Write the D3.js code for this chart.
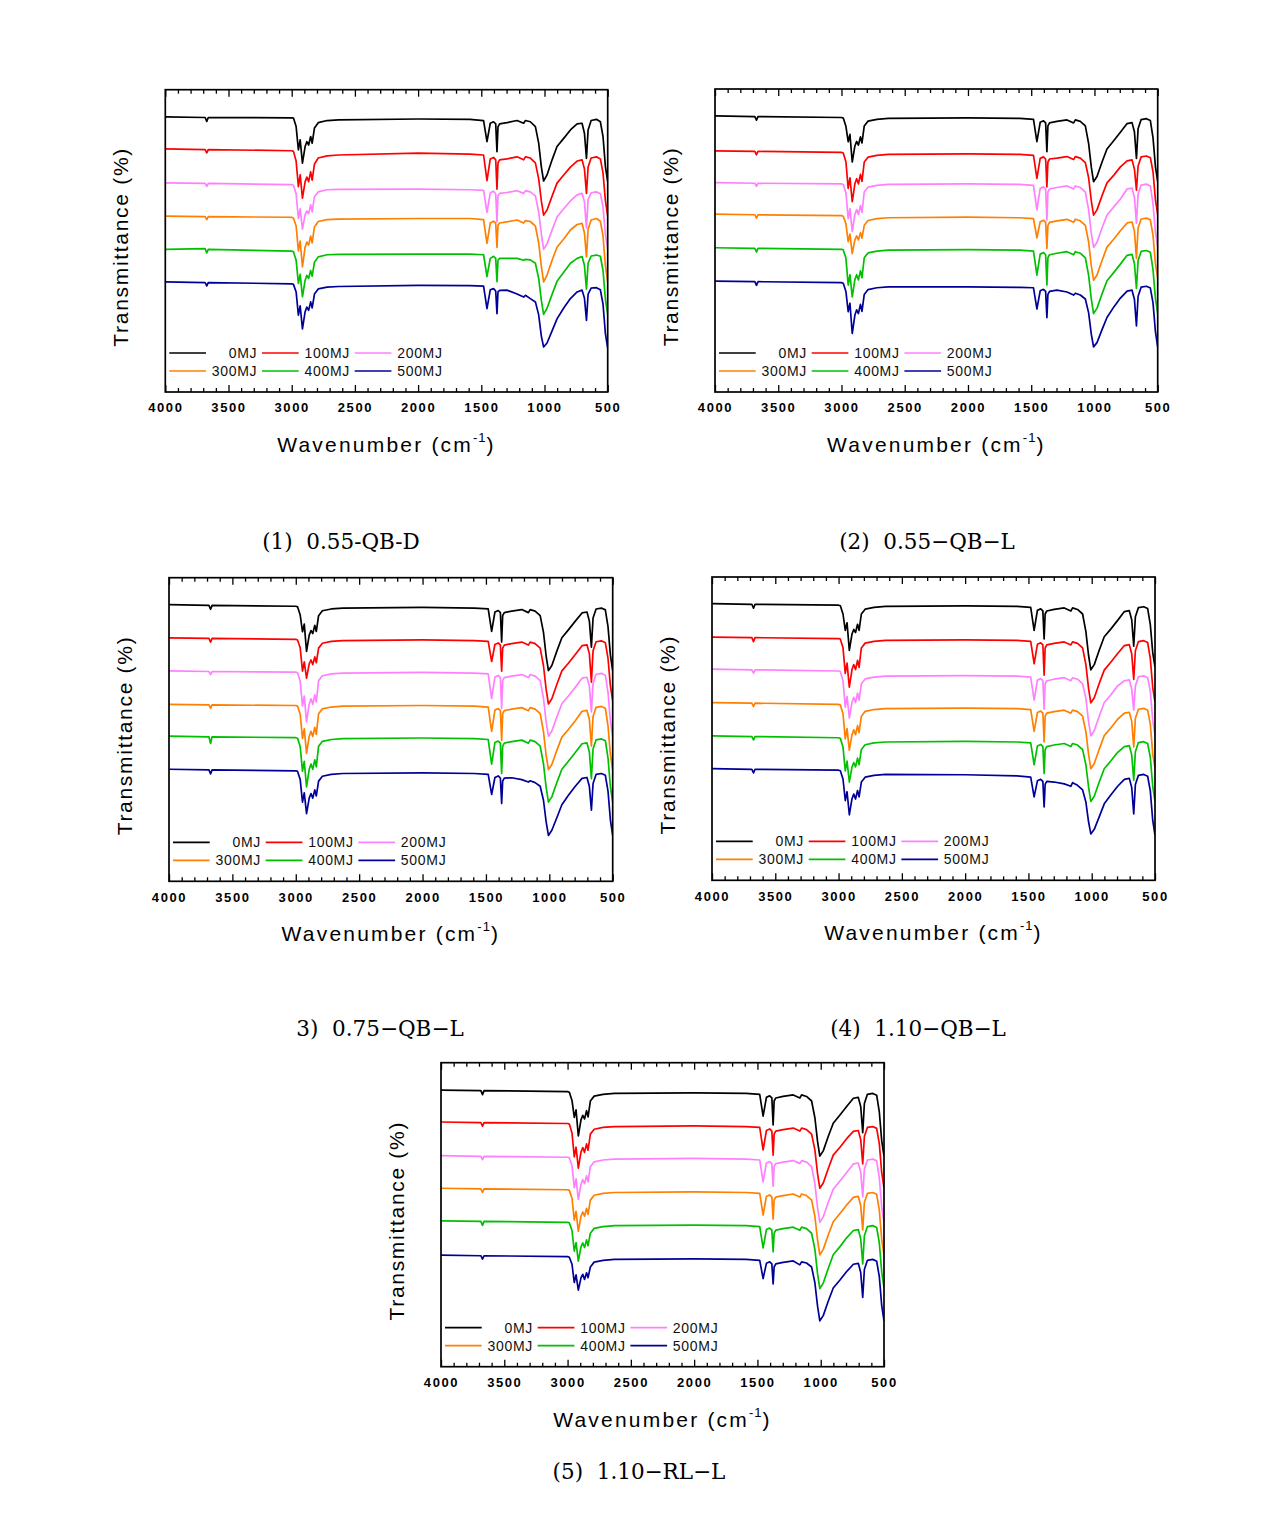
<!DOCTYPE html>
<html><head><meta charset="utf-8">
<script src="https://cdn.jsdelivr.net/npm/d3@7"></script>
<style>body{margin:0;background:#fff}svg{display:block}</style>
</head><body>
<svg id="chart" width="1274" height="1529"></svg>
<script>
// ---------------- data ----------------
const wavenumbers = [4000, 3685, 3672, 3660, 3000, 2986, 2965, 2947, 2933, 2915, 2894, 2880, 2866, 2850, 2838, 2820, 2790, 2720, 2630, 2000, 1590, 1482, 1455, 1429, 1403, 1386, 1376, 1368, 1355, 1297, 1217, 1165, 1151, 1112, 1072, 1046, 1025, 1007, 980, 940, 901, 848, 795, 742, 703, 684, 668, 655, 631, 589, 558, 537, 518, 500];
const seriesLabels = ["0MJ", "100MJ", "200MJ", "300MJ", "400MJ", "500MJ"];
const xTickValues = [4000, 3500, 3000, 2500, 2000, 1500, 1000, 500];
const captions = ["(1)  0.55-QB-D", "(2)  0.55\u2212QB\u2212L", "3)  0.75\u2212QB\u2212L", "(4)  1.10\u2212QB\u2212L", "(5)  1.10\u2212RL\u2212L"];
const xTitle = "Wavenumber (cm";
const yTitle = "Transmittance (%)";

// stacking offset (transmittance at 4000 cm-1) of each curve, per panel
const p1Offsets = [91.0, 80.4, 69.2, 58.2, 47.2, 36.4];
const p2Offsets = [91.1, 79.6, 69.1, 58.7, 47.6, 36.6];
const p3Offsets = [91.1, 80.2, 69.3, 58.3, 47.8, 36.9];
const p4Offsets = [91.2, 80.2, 69.6, 58.6, 47.6, 36.8];
const p5Offsets = [91.0, 80.5, 69.4, 58.7, 48.0, 36.7];

// band depth below the 4000 cm-1 level (transmittance %), per curve
const p1_0MJ = [0, 0.2, 1.5, 0.2, 0.3, 0.4, 3.2, 10.9, 7.6, 15.3, 9.8, 8.2, 9.3, 6.5, 8.7, 3.7, 1.9, 1.2, 1.0, 0.7, 0.8, 1.2, 8.2, 2.1, 1.6, 2.3, 11.5, 3.3, 2.3, 1.9, 1.2, 2.1, 1.2, 1.6, 3.2, 8.7, 16.5, 21.2, 19.2, 14.2, 9.8, 7.1, 4.3, 2.3, 2.1, 5.4, 13.7, 4.3, 1.2, 0.8, 1.6, 6.5, 16.5, 21.4];
const p1_100MJ = [0, 0.2, 1.3, 0.2, 0.6, 0.8, 4.0, 12.5, 8.6, 16.3, 10.9, 9.3, 10.8, 7.6, 10.3, 5.0, 3.0, 2.3, 2.0, 1.4, 1.7, 2.0, 10.5, 3.3, 2.8, 3.6, 13.3, 4.6, 3.6, 3.3, 2.6, 3.6, 2.6, 3.0, 4.6, 9.9, 17.2, 21.9, 20.2, 15.6, 11.3, 8.6, 6.0, 4.0, 3.6, 6.6, 14.7, 6.0, 3.0, 2.6, 3.3, 7.9, 17.2, 22.1];
const p1_200MJ = [0, 0.2, 1.2, 0.2, 0.6, 0.8, 3.6, 11.8, 8.6, 15.3, 10.6, 9.3, 10.2, 7.3, 9.6, 4.6, 3.0, 2.3, 2.2, 2.1, 2.3, 2.5, 9.8, 3.3, 2.8, 3.6, 12.9, 4.3, 3.5, 3.2, 2.6, 3.5, 2.6, 3.0, 4.3, 9.6, 16.9, 22.0, 20.2, 15.6, 11.3, 8.6, 6.0, 4.0, 3.5, 6.3, 14.9, 5.6, 3.3, 3.0, 3.6, 7.9, 17.2, 21.8];
const p1_300MJ = [0, 0.2, 1.2, 0.2, 0.4, 0.7, 3.3, 11.5, 8.3, 16.8, 10.3, 8.6, 9.6, 6.6, 8.9, 3.6, 1.8, 1.2, 1.0, 0.8, 0.8, 1.2, 9.0, 2.3, 1.7, 2.3, 10.4, 3.0, 2.3, 1.9, 1.3, 2.3, 1.5, 1.8, 3.3, 8.9, 16.6, 21.8, 19.5, 14.6, 10.3, 7.6, 4.6, 2.8, 2.4, 5.6, 13.5, 4.3, 1.3, 0.8, 1.7, 6.6, 16.6, 21.8];
const p1_400MJ = [0, -0.2, 1.2, 0, 0.6, 0.8, 3.6, 11.3, 8.3, 15.7, 10.3, 8.6, 9.6, 7.0, 8.9, 4.3, 2.5, 1.8, 1.7, 1.6, 1.6, 1.8, 9.0, 3.0, 2.3, 3.0, 10.7, 3.6, 3.0, 3.0, 3.0, 3.6, 3.3, 3.5, 4.6, 9.6, 16.9, 21.5, 19.5, 14.9, 10.6, 7.6, 4.6, 3.0, 2.4, 5.3, 13.2, 4.6, 2.2, 1.9, 2.3, 7.0, 16.6, 21.5];
const p1_500MJ = [0, 0.2, 1.3, 0.2, 0.6, 0.8, 3.3, 11.0, 7.9, 15.5, 9.9, 8.3, 9.4, 6.6, 8.6, 4.0, 2.3, 1.7, 1.5, 1.1, 1.2, 1.4, 8.8, 2.6, 2.2, 3.0, 10.5, 3.3, 2.8, 2.7, 4.0, 5.0, 4.4, 5.5, 6.6, 10.9, 17.9, 21.5, 20.2, 16.2, 12.2, 8.6, 5.5, 3.3, 2.7, 5.3, 12.7, 4.0, 2.0, 1.9, 2.6, 7.3, 17.2, 21.9];

const p2_0MJ = [0, 0.2, 1.4, 0.2, 0.5, 0.7, 3.4, 8.5, 6.1, 15.2, 9.9, 8.4, 9.6, 6.9, 8.9, 3.3, 1.7, 1.1, 0.8, 0.6, 0.8, 1.1, 8.5, 2.1, 1.6, 2.3, 11.8, 3.3, 2.3, 1.8, 1.3, 2.3, 1.3, 1.8, 3.3, 9.1, 16.9, 21.7, 20.0, 15.2, 10.9, 8.2, 5.4, 2.5, 2.2, 5.2, 14.0, 4.2, 1.2, 0.9, 1.5, 7.2, 16.7, 21.7];
const p2_100MJ = [0, 0.2, 1.3, 0.2, 0.5, 0.7, 3.6, 12.4, 8.9, 16.8, 10.9, 9.2, 10.9, 7.8, 10.1, 3.7, 2.1, 1.5, 1.2, 1.0, 1.2, 1.5, 9.1, 2.5, 2.0, 2.7, 11.9, 3.7, 2.7, 2.4, 1.9, 2.9, 1.9, 2.4, 3.9, 8.9, 16.5, 21.2, 19.5, 14.8, 10.6, 8.1, 5.3, 3.3, 3.0, 6.0, 13.0, 5.0, 2.0, 1.7, 2.3, 6.9, 16.2, 21.0];
const p2_200MJ = [0, 0.2, 1.2, 0.2, 0.4, 0.6, 3.3, 11.9, 8.6, 16.2, 10.5, 8.9, 10.5, 7.6, 9.8, 3.1, 1.5, 0.9, 0.6, 0.4, 0.6, 0.9, 9.0, 1.9, 1.4, 2.1, 12.3, 3.1, 2.1, 1.6, 1.1, 2.1, 1.1, 1.6, 3.1, 9.0, 16.7, 21.4, 19.7, 15.0, 10.7, 8.1, 5.4, 2.1, 1.8, 4.8, 13.4, 3.8, 0.8, 0.5, 1.1, 7.0, 16.3, 21.2];
const p2_300MJ = [0, 0.2, 1.3, 0.2, 0.5, 0.7, 3.2, 9.1, 6.6, 13.0, 8.5, 7.2, 8.5, 6.1, 7.9, 3.7, 2.1, 1.5, 1.2, 1.0, 1.2, 1.5, 7.8, 2.5, 2.0, 2.7, 11.3, 3.7, 2.7, 2.2, 1.7, 2.7, 1.7, 2.2, 3.7, 9.2, 17.0, 21.8, 20.1, 15.3, 10.9, 8.3, 5.5, 2.9, 2.6, 5.6, 14.6, 4.6, 1.6, 1.3, 1.9, 7.0, 16.3, 21.2];
const p2_400MJ = [0, 0.2, 1.4, 0.2, 0.5, 0.7, 3.4, 12.3, 8.9, 16.2, 10.5, 8.9, 10.6, 7.6, 9.9, 3.3, 1.7, 1.1, 0.8, 0.6, 0.8, 1.1, 9.0, 2.1, 1.6, 2.3, 12.3, 3.3, 2.3, 1.8, 1.3, 2.3, 1.3, 1.8, 3.3, 9.1, 16.9, 21.7, 20.0, 15.2, 10.9, 8.2, 5.4, 2.5, 2.2, 5.2, 13.4, 4.2, 1.2, 0.9, 1.5, 7.2, 16.7, 21.7];
const p2_500MJ = [0, 0.2, 1.4, 0.2, 0.5, 0.7, 3.4, 10.1, 7.3, 17.3, 11.2, 9.5, 10.7, 7.7, 10.0, 4.4, 2.8, 2.2, 1.9, 1.9, 2.1, 2.2, 9.2, 3.2, 2.7, 3.4, 12.1, 4.4, 3.4, 3.0, 3.6, 4.6, 4.0, 4.6, 5.9, 10.5, 17.5, 21.7, 20.3, 16.0, 12.0, 8.6, 5.6, 3.3, 3.0, 6.0, 14.8, 5.0, 2.0, 1.7, 2.3, 7.2, 16.7, 21.7];

const p3_0MJ = [0, 0.2, 1.5, 0.2, 0.5, 0.7, 3.4, 8.9, 6.4, 15.4, 10.0, 8.5, 9.5, 6.8, 8.8, 3.6, 2.0, 1.4, 1.1, 0.9, 1.1, 1.4, 8.8, 2.4, 1.9, 2.6, 12.3, 3.6, 2.6, 2.1, 1.6, 2.6, 1.6, 2.1, 3.6, 9.1, 16.9, 21.7, 20.0, 15.2, 10.9, 8.2, 5.4, 2.7, 2.4, 5.4, 14.0, 4.4, 1.4, 1.1, 1.7, 7.2, 16.7, 21.7];
const p3_100MJ = [0, 0.2, 1.4, 0.2, 0.5, 0.7, 3.3, 11.0, 7.9, 13.3, 8.6, 7.3, 8.8, 6.3, 8.2, 3.4, 1.8, 1.2, 0.9, 0.7, 0.9, 1.2, 7.8, 2.2, 1.7, 2.4, 11.0, 3.4, 2.4, 1.9, 1.4, 2.4, 1.4, 1.9, 3.4, 9.2, 17.0, 21.8, 20.1, 15.3, 10.9, 8.3, 5.5, 2.6, 2.3, 5.3, 14.6, 4.3, 1.3, 1.0, 1.6, 6.8, 15.9, 20.7];
const p3_200MJ = [0, 0.2, 1.2, 0.2, 0.4, 0.6, 3.4, 11.5, 8.3, 16.8, 10.9, 9.2, 11.0, 7.9, 10.2, 3.2, 1.6, 1.0, 0.7, 0.5, 0.7, 1.0, 9.1, 2.0, 1.5, 2.2, 12.4, 3.2, 2.2, 1.7, 1.2, 2.2, 1.2, 1.7, 3.2, 9.0, 16.8, 21.5, 19.8, 15.1, 10.8, 8.2, 5.4, 2.4, 2.1, 5.1, 13.5, 4.1, 1.1, 0.8, 1.4, 7.1, 16.6, 21.5];
const p3_300MJ = [0, 0.2, 1.3, 0.2, 0.4, 0.6, 3.3, 11.2, 8.1, 16.2, 10.5, 8.9, 10.6, 7.6, 9.9, 3.1, 1.5, 0.9, 0.6, 0.4, 0.6, 0.9, 8.9, 1.9, 1.4, 2.1, 11.9, 3.1, 2.1, 1.6, 1.1, 2.1, 1.1, 1.6, 3.1, 9.0, 16.8, 21.5, 19.8, 15.1, 10.8, 8.2, 5.4, 2.3, 2.0, 5.0, 13.8, 4.0, 1.0, 0.7, 1.3, 7.1, 16.6, 21.5];
const p3_400MJ = [0, 0.2, 2.4, 0.2, 0.5, 0.7, 3.4, 11.5, 8.3, 16.7, 10.9, 9.2, 10.9, 7.8, 10.1, 3.3, 1.7, 1.1, 0.8, 0.6, 0.8, 1.1, 9.2, 2.1, 1.6, 2.3, 12.3, 3.3, 2.3, 1.8, 1.3, 2.3, 1.3, 1.8, 3.3, 9.1, 16.9, 21.7, 20.0, 15.2, 10.9, 8.2, 5.4, 2.5, 2.2, 5.2, 14.0, 4.2, 1.2, 0.9, 1.5, 7.2, 16.7, 21.7];
const p3_500MJ = [0, 0.2, 1.5, 0.2, 0.5, 0.7, 3.4, 10.8, 7.8, 14.6, 9.5, 8.0, 9.5, 6.8, 8.8, 3.9, 2.3, 1.7, 1.4, 1.2, 1.4, 1.7, 8.3, 2.7, 2.2, 2.9, 11.3, 3.9, 2.9, 2.8, 3.4, 4.2, 3.8, 4.4, 5.6, 10.2, 17.3, 21.8, 20.1, 15.9, 11.7, 8.5, 5.6, 3.0, 2.7, 5.7, 13.5, 4.7, 1.7, 1.4, 2.0, 7.2, 16.8, 21.8];

const p4_0MJ = [0, 0.2, 1.5, 0.2, 0.5, 0.7, 3.4, 8.8, 6.3, 15.4, 10.0, 8.5, 9.5, 6.8, 8.8, 3.4, 1.8, 1.2, 0.9, 0.7, 0.9, 1.2, 8.8, 2.2, 1.7, 2.4, 11.6, 3.4, 2.4, 1.9, 1.4, 2.4, 1.4, 1.9, 3.4, 9.2, 17.0, 21.8, 20.1, 15.3, 10.9, 8.3, 5.5, 2.6, 2.3, 5.3, 14.0, 4.3, 1.3, 1.0, 1.6, 6.9, 16.1, 20.9];
const p4_100MJ = [0, 0.2, 1.5, 0.2, 0.5, 0.7, 3.5, 12.0, 8.6, 16.5, 10.7, 9.1, 10.7, 7.7, 10.0, 3.6, 2.0, 1.4, 1.1, 0.9, 1.1, 1.4, 8.8, 2.4, 1.9, 2.6, 12.6, 3.6, 2.6, 2.1, 1.6, 2.6, 1.6, 2.1, 3.6, 9.1, 16.9, 21.7, 20.0, 15.2, 10.9, 8.2, 5.4, 2.8, 2.5, 5.5, 14.0, 4.5, 1.5, 1.2, 1.8, 7.1, 16.6, 21.5];
const p4_200MJ = [0, 0.2, 1.3, 0.2, 0.6, 0.8, 3.8, 12.5, 9.0, 16.1, 10.9, 9.3, 11.0, 7.9, 10.2, 4.8, 3.2, 2.6, 2.3, 2.1, 2.3, 2.6, 10.2, 3.6, 3.1, 3.8, 13.2, 4.8, 3.8, 3.3, 2.8, 3.8, 2.8, 3.3, 4.8, 9.6, 17.2, 22.0, 20.2, 15.4, 11.0, 8.4, 5.5, 3.8, 3.5, 6.5, 13.5, 5.5, 2.5, 2.2, 2.8, 7.2, 16.8, 21.8];
const p4_300MJ = [0, 0.2, 1.3, 0.2, 0.6, 0.8, 3.7, 12.0, 8.6, 15.7, 10.6, 9.0, 10.6, 7.6, 9.9, 4.5, 2.9, 2.3, 2.0, 1.8, 2.0, 2.3, 9.5, 3.3, 2.8, 3.5, 13.0, 4.5, 3.5, 3.0, 2.5, 3.5, 2.5, 3.0, 4.5, 9.6, 17.0, 21.8, 20.1, 15.3, 10.9, 8.3, 5.5, 3.5, 3.2, 6.2, 14.6, 5.2, 2.2, 1.9, 2.5, 7.2, 16.8, 21.8];
const p4_400MJ = [0, 0.2, 1.3, 0.2, 0.6, 0.8, 3.7, 11.5, 8.3, 15.2, 10.3, 8.8, 10.2, 7.3, 9.5, 4.5, 2.9, 2.3, 2.0, 1.8, 2.0, 2.3, 9.5, 3.3, 2.8, 3.5, 12.4, 4.5, 3.5, 3.0, 2.5, 3.5, 2.5, 3.0, 4.5, 9.5, 16.8, 21.6, 19.9, 15.1, 10.8, 8.2, 5.4, 3.5, 3.2, 6.2, 14.6, 5.2, 2.2, 1.9, 2.5, 7.1, 16.6, 21.6];
const p4_500MJ = [0, 0.2, 1.4, 0.2, 0.5, 0.7, 3.4, 10.5, 7.6, 15.2, 9.9, 8.4, 10.0, 7.2, 9.3, 4.4, 2.8, 2.2, 1.9, 2.0, 2.4, 2.8, 9.3, 4.0, 3.5, 4.2, 12.6, 5.2, 4.2, 4.4, 5.0, 5.8, 4.6, 5.5, 7.0, 11.0, 17.5, 21.5, 20.0, 15.8, 11.6, 8.6, 5.8, 3.5, 3.2, 6.2, 14.9, 5.2, 2.2, 1.9, 2.5, 7.3, 17.0, 22.0];

const p5_0MJ = [0, 0.2, 1.5, 0.2, 0.5, 0.7, 3.4, 9.0, 6.5, 15.1, 9.8, 8.3, 9.5, 6.8, 8.8, 3.6, 2.0, 1.4, 1.1, 0.9, 1.1, 1.4, 8.6, 2.4, 1.9, 2.6, 11.5, 3.6, 2.6, 2.1, 1.6, 2.6, 1.6, 2.1, 3.6, 9.1, 16.9, 21.7, 20.0, 15.2, 10.9, 8.2, 5.4, 2.7, 2.4, 5.4, 14.0, 4.4, 1.4, 1.1, 1.7, 7.2, 16.7, 21.7];
const p5_100MJ = [0, 0.2, 1.4, 0.2, 0.5, 0.7, 3.6, 11.5, 8.3, 15.2, 9.9, 8.4, 10.0, 7.2, 9.3, 4.0, 2.4, 1.8, 1.5, 1.3, 1.5, 1.8, 9.2, 2.8, 2.3, 3.0, 10.9, 4.0, 3.0, 2.5, 2.0, 3.0, 2.0, 2.5, 4.0, 9.2, 17.0, 21.8, 20.1, 15.3, 10.9, 8.3, 5.5, 3.1, 2.8, 5.8, 13.8, 4.8, 1.8, 1.5, 2.1, 7.2, 16.7, 21.7];
const p5_200MJ = [0, 0.2, 1.3, 0.2, 0.5, 0.7, 3.3, 10.5, 7.6, 14.4, 9.4, 7.9, 9.2, 6.6, 8.6, 3.6, 2.0, 1.4, 1.1, 0.9, 1.1, 1.4, 8.6, 2.4, 1.9, 2.6, 10.0, 3.6, 2.6, 2.1, 1.6, 2.6, 1.6, 2.1, 3.6, 9.2, 17.1, 21.9, 20.1, 15.3, 11.0, 8.3, 5.5, 2.7, 2.4, 5.4, 13.5, 4.4, 1.4, 1.1, 1.7, 7.2, 16.9, 21.9];
const p5_300MJ = [0, 0.2, 1.4, 0.2, 0.5, 0.7, 3.3, 10.5, 7.6, 14.2, 9.2, 7.8, 9.2, 6.6, 8.6, 3.9, 2.3, 1.7, 1.4, 1.2, 1.4, 1.7, 8.8, 2.7, 2.2, 2.9, 10.2, 3.9, 2.9, 2.4, 1.9, 2.9, 1.9, 2.4, 3.9, 9.2, 17.1, 21.9, 20.1, 15.3, 11.0, 8.3, 5.5, 3.0, 2.7, 5.7, 13.7, 4.7, 1.7, 1.4, 2.0, 7.2, 16.9, 21.9];
const p5_400MJ = [0, 0.2, 1.5, 0.2, 0.5, 0.7, 3.2, 10.0, 7.2, 13.3, 8.6, 7.3, 8.8, 6.3, 8.2, 4.1, 2.5, 1.9, 1.6, 1.4, 1.6, 1.9, 8.9, 2.9, 2.4, 3.1, 10.2, 4.1, 3.1, 2.6, 2.1, 3.1, 2.1, 2.6, 4.1, 9.4, 17.4, 22.3, 20.5, 15.6, 11.2, 8.5, 5.6, 3.2, 2.9, 5.9, 14.2, 4.9, 1.9, 1.6, 2.2, 7.3, 16.9, 22.0];
const p5_500MJ = [0, 0.2, 1.3, 0.2, 0.5, 0.7, 3.0, 9.0, 6.5, 11.5, 7.5, 6.3, 8.0, 5.8, 7.4, 3.9, 2.3, 1.7, 1.4, 1.2, 1.4, 1.7, 7.7, 2.7, 2.2, 2.9, 9.5, 3.9, 2.9, 2.4, 1.9, 3.2, 2.2, 2.6, 3.9, 9.1, 16.8, 21.6, 19.9, 15.1, 10.8, 8.2, 5.4, 3.0, 2.7, 5.7, 13.9, 4.7, 1.7, 1.4, 2.0, 7.1, 16.6, 21.6];

// ---------------- presentation ----------------
const seriesColors = ["#000000", "#ff0000", "#ff80ff", "#ff8000", "#00c000", "#000099"];
const panels = [
  {offsets: p1Offsets, series: [p1_0MJ, p1_100MJ, p1_200MJ, p1_300MJ, p1_400MJ, p1_500MJ]},
  {offsets: p2Offsets, series: [p2_0MJ, p2_100MJ, p2_200MJ, p2_300MJ, p2_400MJ, p2_500MJ]},
  {offsets: p3Offsets, series: [p3_0MJ, p3_100MJ, p3_200MJ, p3_300MJ, p3_400MJ, p3_500MJ]},
  {offsets: p4Offsets, series: [p4_0MJ, p4_100MJ, p4_200MJ, p4_300MJ, p4_400MJ, p4_500MJ]},
  {offsets: p5Offsets, series: [p5_0MJ, p5_100MJ, p5_200MJ, p5_300MJ, p5_400MJ, p5_500MJ]}
];
const layout = [
  {left: 165.3, top: 89.7, width: 442.4, height: 302.3, capX: 341, capY: 549},
  {left: 715, top: 89, width: 442.7, height: 303, capX: 927, capY: 549},
  {left: 169, top: 577.7, width: 443.7, height: 303.6, capX: 380, capY: 1036},
  {left: 712, top: 577, width: 443, height: 303.3, capX: 918, capY: 1036},
  {left: 441, top: 1062.7, width: 443, height: 304, capX: 639, capY: 1479}
];

const svg = d3.select("#chart");
const defs = svg.append("defs");
const sans = "'Liberation Sans', Arial, sans-serif";

panels.forEach((P, pi) => {
  const L = layout[pi];
  const x = d3.scaleLinear().domain([4000, 500]).range([L.left, L.left + L.width]);
  const y = d3.scaleLinear().domain([0, 100]).range([L.top + L.height, L.top]);
  const g = svg.append("g");
  const clipId = "clip" + pi;
  defs.append("clipPath").attr("id", clipId).append("rect")
    .attr("x", L.left).attr("y", L.top).attr("width", L.width).attr("height", L.height);

  const line = d3.line().x(d => x(d[0])).y(d => y(d[1]));
  P.series.forEach((s, si) => {
    const n = Math.min(s.length, wavenumbers.length);
    const pts = [];
    for (let i = 0; i < n; i++) pts.push([wavenumbers[i], P.offsets[si] - s[i]]);
    g.append("path").attr("d", line(pts)).attr("fill", "none")
      .attr("stroke", seriesColors[si]).attr("stroke-width", 1.7)
      .attr("stroke-linejoin", "round").attr("clip-path", `url(#${clipId})`);
  });

  const minorTicks = d3.range(4000, 499, -100).filter(v => v % 500 !== 0);
  const bottom = L.top + L.height;
  const axB = g.append("g").attr("transform", `translate(0,${bottom})`)
    .call(d3.axisBottom(x).tickValues(xTickValues).tickSize(-7).tickSizeOuter(0).tickPadding(11).tickFormat(d3.format("d")));
  axB.select(".domain").remove();
  axB.selectAll("line").attr("stroke", "#000").attr("stroke-width", 1.3);
  axB.selectAll("text").attr("font-family", sans).attr("font-weight", "bold")
    .attr("font-size", 13).attr("letter-spacing", "1.6px").attr("fill", "#000");
  const axBm = g.append("g").attr("transform", `translate(0,${bottom})`)
    .call(d3.axisBottom(x).tickValues(minorTicks).tickSize(-4).tickSizeOuter(0).tickFormat(""));
  axBm.select(".domain").remove();
  axBm.selectAll("line").attr("stroke", "#000").attr("stroke-width", 1.3);
  const axT = g.append("g").attr("transform", `translate(0,${L.top})`)
    .call(d3.axisTop(x).tickValues(xTickValues).tickSize(-7).tickSizeOuter(0).tickFormat(""));
  axT.select(".domain").remove();
  axT.selectAll("line").attr("stroke", "#000").attr("stroke-width", 1.3);
  const axTm = g.append("g").attr("transform", `translate(0,${L.top})`)
    .call(d3.axisTop(x).tickValues(minorTicks).tickSize(-4).tickSizeOuter(0).tickFormat(""));
  axTm.select(".domain").remove();
  axTm.selectAll("line").attr("stroke", "#000").attr("stroke-width", 1.3);

  g.append("rect").attr("x", L.left).attr("y", L.top).attr("width", L.width).attr("height", L.height)
    .attr("fill", "none").attr("stroke", "#000").attr("stroke-width", 1.7);

  seriesLabels.forEach((lab, si) => {
    const row = Math.floor(si / 3), col = si % 3;
    const lx = L.left + 4 + col * 92.7;
    const ly = bottom - 39 + row * 18;
    g.append("line").attr("x1", lx).attr("x2", lx + 36.7).attr("y1", ly).attr("y2", ly)
      .attr("stroke", seriesColors[si]).attr("stroke-width", 1.7);
    g.append("text").attr("x", lx + 88).attr("y", ly).attr("dy", "0.36em")
      .attr("text-anchor", "end").attr("font-family", sans).attr("font-size", 14)
      .attr("letter-spacing", "0.7px").attr("fill", "#111").text(lab);
  });

  const xt = g.append("text").attr("x", L.left + L.width / 2).attr("y", bottom + 60)
    .attr("text-anchor", "middle").attr("font-family", sans).attr("font-size", 21)
    .attr("letter-spacing", "2.2px").attr("fill", "#000");
  xt.append("tspan").text(xTitle);
  xt.append("tspan").attr("font-size", 13).attr("dy", -10).attr("letter-spacing", "1px").text("-1");
  xt.append("tspan").attr("dy", 10).text(")");

  g.append("text").attr("transform", `translate(${L.left - 37},${L.top + L.height / 2 + 6}) rotate(-90)`)
    .attr("text-anchor", "middle").attr("font-family", sans).attr("font-size", 21)
    .attr("letter-spacing", "1.7px").attr("fill", "#000").text(yTitle);

  g.append("text").attr("x", L.capX).attr("y", L.capY).attr("text-anchor", "middle")
    .attr("font-family", "'DejaVu Serif', 'Liberation Serif', serif").attr("font-size", 21.5)
    .style("white-space", "pre").attr("fill", "#000").text(captions[pi]);
});
</script>
</body></html>
